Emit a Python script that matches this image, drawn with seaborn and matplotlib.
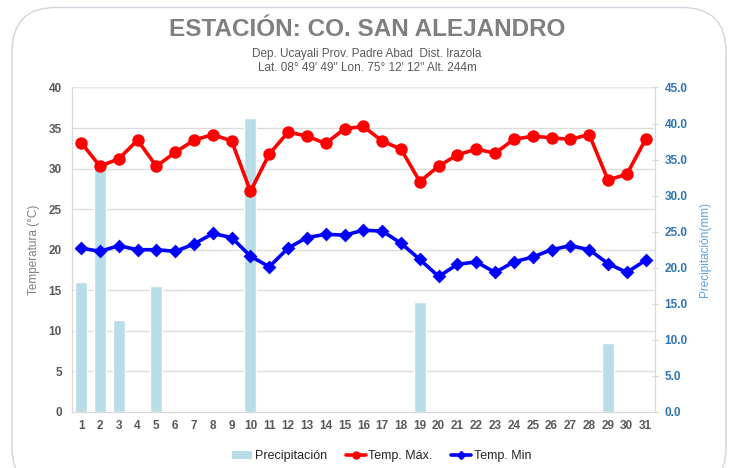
import numpy as np
import pandas as pd
import matplotlib
matplotlib.use("Agg")
import matplotlib.pyplot as plt
from matplotlib.patches import FancyBboxPatch, Patch
from matplotlib.lines import Line2D
import seaborn as sns

# Daily data
days = [str(d) for d in range(1, 32)]
temp_max = [33.2, 30.3, 31.2, 33.5, 30.3, 32.0, 33.5, 34.2, 33.4, 27.2,
            31.8, 34.5, 34.0, 33.1, 34.9, 35.2, 33.4, 32.4, 28.4, 30.3,
            31.7, 32.4, 31.9, 33.6, 34.0, 33.8, 33.6, 34.2, 28.6, 29.3, 33.6]
temp_min = [20.2, 19.8, 20.5, 20.0, 20.0, 19.8, 20.7, 22.0, 21.5, 19.2,
            17.9, 20.2, 21.5, 21.9, 21.8, 22.4, 22.3, 20.8, 18.8, 16.7,
            18.2, 18.5, 17.2, 18.5, 19.1, 20.0, 20.5, 20.0, 18.3, 17.2, 18.7]
precip = [18.0, 33.9, 12.8, 0, 17.5, 0, 0, 0, 0, 40.8,
          0, 0, 0, 0, 0, 0, 0, 0, 15.2, 0,
          0, 0, 0, 0, 0, 0, 0, 0, 9.6, 0, 0]

df = pd.DataFrame({"dia": days, "tmax": temp_max, "tmin": temp_min, "pp": precip})

sns.set_style("white")
plt.rcParams["font.family"] = ["Liberation Sans", "DejaVu Sans"]

RED = "#FF0000"
BLUE = "#0000FF"
BAR = "#B7DDE8"
GREY = "#7F7F7F"

fig = plt.figure(figsize=(7.34, 4.68), dpi=100)

# rounded frame around the chart
frame = FancyBboxPatch((12 / 734, -0.05), 714 / 734, 1.034, boxstyle="round,pad=0,rounding_size=0.06",
                       transform=fig.transFigure, facecolor="none", edgecolor="#CFD6DE",
                       linewidth=1.0, mutation_aspect=734 / 468, zorder=-1)
fig.patches.append(frame)

ax2 = fig.add_axes([0.0977, 0.1197, 0.7947, 0.6934])  # precipitation (right)
ax = ax2.twinx()                                       # temperatures (left)

# precipitation bars
sns.barplot(data=df, x="dia", y="pp", color=BAR, width=0.64, saturation=1, ax=ax2)
ax2.set_ylim(0, 45)
ax2.set_yticks(np.arange(0, 46, 5))
ax2.set_yticklabels([f"{v:.1f}" for v in np.arange(0, 46, 5)])
# horizontal grid matching the temperature ticks, kept behind the bars
for t in range(5, 45, 5):
    ax2.axhline(t * 45 / 40, color="#DCDCDC", linewidth=1.0, zorder=0)
ax2.set_axisbelow(True)

# temperature lines
sns.pointplot(data=df, x="dia", y="tmax", color=RED, markers="o", linestyles="-",
              linewidth=2.6, markersize=7, ax=ax)
sns.pointplot(data=df, x="dia", y="tmin", color=BLUE, markers="D", linestyles="-",
              linewidth=2.6, markersize=5, ax=ax)
ax.set_ylim(0, 40)
ax.set_yticks(np.arange(0, 41, 5))
ax.set_xlim(-0.5, 30.5)
ax2.set_xlim(-0.5, 30.5)

ax.set_zorder(ax2.get_zorder() + 1)
ax.patch.set_visible(False)

# put temperature axis on the left, precipitation on the right
ax.yaxis.tick_left()
ax.yaxis.set_label_position("left")
ax2.yaxis.tick_right()
ax2.yaxis.set_label_position("right")

ax.set_xlabel("")
ax2.set_xlabel("")
ax.set_ylabel("Temperatura (°C)", color=GREY, fontsize=8.5, labelpad=6)
ax2.set_ylabel("Precipitación(mm)", color="#5BA3D9", fontsize=8.5, labelpad=8)

ax.tick_params(axis="y", colors="#595959", labelsize=8.5, length=0, pad=7)
ax2.tick_params(axis="y", direction="inout", colors="#D9D9D9", labelcolor="#2E75B6",
                labelsize=8.5, length=4, pad=5)
ax2.tick_params(axis="x", colors="#595959", labelsize=8.5, length=0, pad=6)
ax.tick_params(axis="x", length=0, labelbottom=False)
for lab in ax.get_yticklabels() + ax2.get_yticklabels() + ax2.get_xticklabels():
    lab.set_fontweight("bold")

for a in (ax, ax2):
    a.spines["top"].set_visible(False)
    a.spines["left"].set_color("#D9D9D9")
    a.spines["right"].set_color("#D9D9D9")
    a.spines["bottom"].set_color("#D9D9D9")
ax2.axhline(45, color="#E8E8E8", linewidth=1.0, zorder=0)

# titles
fig.text(0.5, 0.938, "ESTACIÓN: CO. SAN ALEJANDRO", ha="center", va="center",
         fontsize=17.5, fontweight="bold", color=GREY)
fig.text(0.5, 0.885, "Dep. Ucayali Prov. Padre Abad  Dist. Irazola", ha="center", va="center",
         fontsize=8.5, color="#595959")
fig.text(0.5, 0.855, "Lat. 08° 49' 49'' Lon. 75° 12' 12'' Alt. 244m", ha="center", va="center",
         fontsize=8.5, color="#595959")

# legend
handles = [
    Patch(facecolor=BAR, edgecolor="none", label="Precipitación"),
    Line2D([0], [0], color=RED, marker="o", linewidth=2.6, markersize=5, label="Temp. Máx."),
    Line2D([0], [0], color=BLUE, marker="D", linewidth=2.6, markersize=4, label="Temp. Min"),
]
fig.legend(handles=handles, loc="center", bbox_to_anchor=(0.52, 0.025), ncol=3, frameon=False,
           fontsize=9, handlelength=1.6, handletextpad=0.2, columnspacing=1.5)

fig.savefig("out.png", dpi=100)
